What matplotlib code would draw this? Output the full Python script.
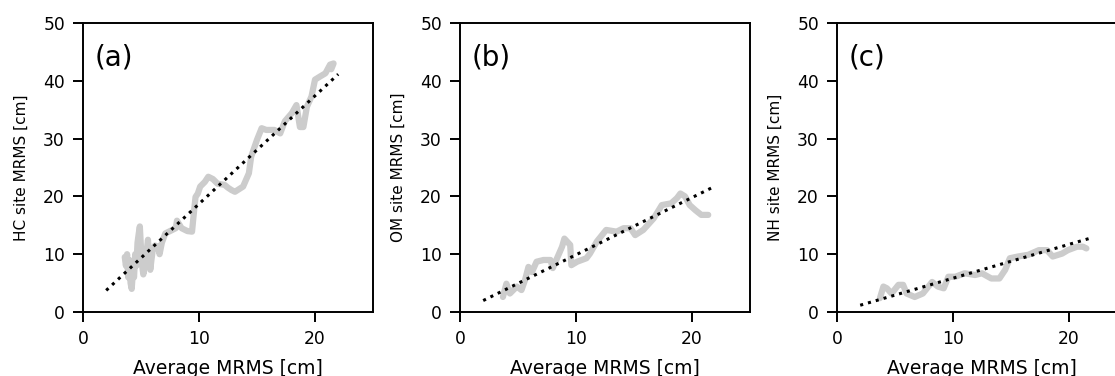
import matplotlib
matplotlib.use("Agg")
import matplotlib.pyplot as plt
import numpy as np

# panel (a) HC site
hc_x = [3.6, 3.7, 3.8, 3.9, 4.0, 4.1, 4.2, 4.3, 4.4, 4.5, 4.6, 4.7, 4.8, 4.9, 5.0, 5.1,
        5.2, 5.4, 5.6, 5.7, 5.8, 5.9, 6.0, 6.2, 6.5, 6.6, 6.8, 7.1, 7.5, 8.0, 8.1,
        8.5, 9.0, 9.4, 9.5, 9.7, 9.9, 10.1, 10.5, 10.8, 11.2, 11.6, 12.2, 12.5, 12.8,
        13.1, 13.8, 14.3, 14.5, 15.0, 15.4, 15.8, 16.5, 17.0, 17.4, 18.0, 18.4,
        18.7, 19.0, 19.3, 19.7, 20.0, 20.4, 20.9, 21.3, 21.6, 21.4]
hc_y = [9.5, 8.0, 10.0, 6.0, 9.0, 5.0, 4.0, 7.0, 6.0, 10.0, 8.0, 12.0, 13.5, 14.8, 11.0, 8.0,
        6.5, 9.0, 12.5, 10.0, 7.3, 9.0, 10.5, 11.5, 11.3, 10.0, 12.0, 13.6, 14.0, 14.5, 15.8,
        14.5, 14.0, 13.9, 16.0, 19.9, 20.5, 21.7, 22.5, 23.4, 23.0, 22.2, 22.0, 21.5, 21.1,
        20.8, 21.7, 24.0, 26.9, 29.8, 31.8, 31.5, 31.5, 30.9, 33.0, 34.4, 35.8,
        32.0, 32.0, 35.5, 37.3, 40.2, 40.7, 41.3, 42.8, 43.0, 42.0]

# panel (b) OM site
om_x = [3.7, 4.0, 4.3, 4.9, 5.3, 5.6, 5.9, 6.2, 6.6, 7.2, 7.8, 8.0, 8.3, 8.8, 9.0,
        9.5, 9.6, 10.1, 10.9, 11.2, 11.8, 12.6, 13.5, 14.1, 14.7, 15.1, 15.8, 16.7,
        17.4, 18.2, 18.7, 19.0, 19.4, 19.8, 20.3, 20.8, 21.4]
om_y = [2.6, 4.9, 3.2, 4.4, 3.8, 5.5, 7.8, 6.9, 8.7, 9.0, 9.0, 7.6, 9.0, 11.3, 12.7,
        11.6, 8.1, 8.7, 9.3, 10.1, 12.2, 14.2, 13.9, 14.5, 14.5, 13.3, 14.2, 16.2,
        18.5, 18.8, 19.7, 20.5, 20.0, 18.5, 17.6, 16.8, 16.8]

# panel (c) NH site
nh_x = [3.7, 4.0, 4.3, 4.7, 5.3, 5.7, 6.0, 6.7, 7.4, 8.2, 8.7, 9.2, 9.6, 10.2, 11.0,
        11.9, 12.5, 13.3, 14.0, 14.5, 14.9, 15.6, 16.5, 17.4, 18.1, 18.6, 19.4, 19.9,
        20.7, 21.2, 21.5]
nh_y = [2.4, 4.4, 4.1, 3.2, 4.7, 4.7, 3.2, 2.6, 3.2, 5.2, 4.4, 4.1, 6.1, 6.1, 6.7,
        6.4, 6.7, 5.8, 5.8, 7.3, 9.3, 9.6, 9.9, 10.7, 10.7, 9.6, 10.1, 10.7,
        11.3, 11.3, 11.0]

# linear fit slopes (through origin)
fit_slopes = [1.87, 0.99, 0.585]
fit_x = [2.0, 22.0]

panels = [("(a)", "HC site MRMS [cm]", hc_x, hc_y),
          ("(b)", "OM site MRMS [cm]", om_x, om_y),
          ("(c)", "NH site MRMS [cm]", nh_x, nh_y)]

plt.rcParams["font.family"] = "DejaVu Sans"
fig = plt.figure(figsize=(11.15, 3.76), dpi=100)
lefts = [83 / 1115, 460 / 1115, 837 / 1115]

for left, (tag, ylab, xs, ys), k in zip(lefts, panels, fit_slopes):
    ax = fig.add_axes([left, 64 / 376, 290 / 1115, 289 / 376])
    ax.plot(xs, ys, color="#cccccc", lw=4.5, solid_capstyle="round", solid_joinstyle="round")
    fx = np.array(fit_x)
    ax.plot(fx, k * fx, color="black", ls=":", lw=2.2)
    ax.set_xlim(0, 25)
    ax.set_ylim(0, 50)
    ax.set_xticks([0, 10, 20])
    ax.set_yticks([0, 10, 20, 30, 40, 50])
    ax.tick_params(labelsize=12.3, width=1.4, length=7, pad=6)
    for s in ax.spines.values():
        s.set_linewidth(1.4)
    ax.set_ylabel(ylab, fontsize=11, labelpad=10)
    ax.set_xlabel("Average MRMS [cm]", fontsize=13.5, labelpad=8)
    ax.text(0.04, 0.88, tag, transform=ax.transAxes, fontsize=20, va="center")

fig.savefig("out.png", dpi=100)
